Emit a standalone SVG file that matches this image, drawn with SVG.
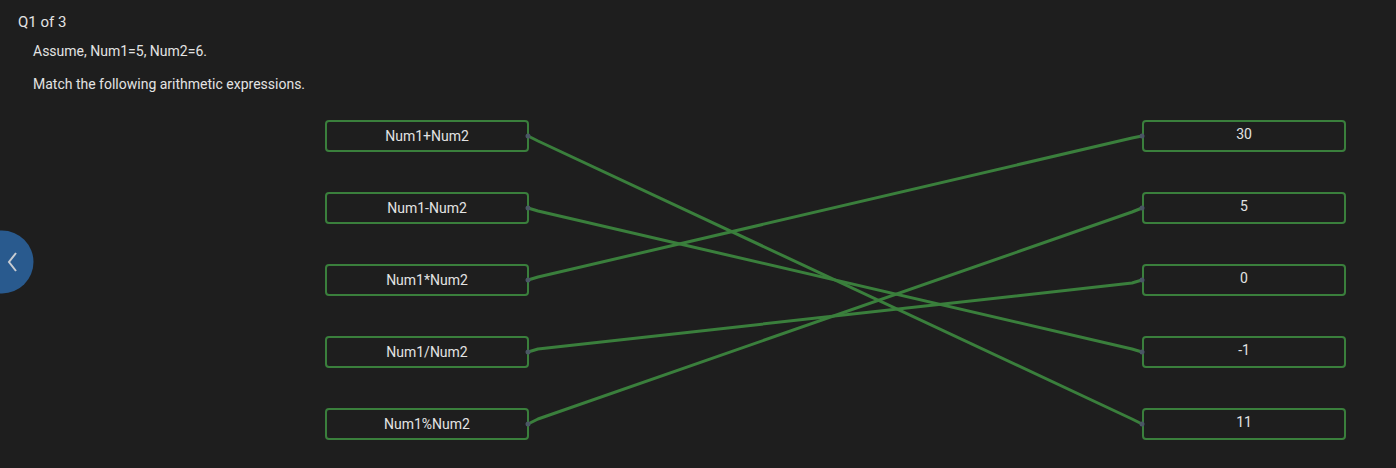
<svg xmlns="http://www.w3.org/2000/svg" width="1396" height="468" viewBox="0 0 1396 468">
<style>
text{font-family:Roboto,"Liberation Sans",sans-serif;fill:#e3e3e3}
.box{fill:#1e1e1e;stroke:#3a7f3c;stroke-width:2}
.lbl{font-size:14px;text-anchor:middle}
.c{fill:none;stroke:#3a7f3c;stroke-width:3;stroke-linejoin:round;stroke-linecap:round}
.dot{fill:#4a5664}
</style>
<rect width="1396" height="468" fill="#1e1e1e"/>
<text x="18" y="27" font-size="15">Q1 of 3</text>
<text x="33" y="56" font-size="14">Assume, Num1=5, Num2=6.</text>
<text x="33" y="89" font-size="14">Match the following arithmetic expressions.</text>
<g id="nav">
<circle cx="2" cy="262" r="31.5" fill="#295a8e"/>
<path d="M16,253 L9,262 L16,271" fill="none" stroke="#c8ccd2" stroke-width="2"/>
</g>
<g id="connectors">
<path class="c" d="M528,136 L538,141 L1132,419 L1142,424"/>
<path class="c" d="M528,208 L538,211 L1132,349 L1142,352"/>
<path class="c" d="M528,280 L538,277 L1132,138 L1142,136"/>
<path class="c" d="M528,352 L538,349 L1132,283 L1142,280"/>
<path class="c" d="M528,424 L538,419 L1132,212 L1142,208"/>
</g>
<g id="L1"><rect class="box" x="326" y="121" width="202" height="30" rx="3"/><text class="lbl" x="427" y="141">Num1+Num2</text><circle class="dot" cx="528" cy="136" r="2.5"/></g>
<g id="L2"><rect class="box" x="326" y="193" width="202" height="30" rx="3"/><text class="lbl" x="427" y="213">Num1-Num2</text><circle class="dot" cx="528" cy="208" r="2.5"/></g>
<g id="L3"><rect class="box" x="326" y="265" width="202" height="30" rx="3"/><text class="lbl" x="427" y="285">Num1*Num2</text><circle class="dot" cx="528" cy="280" r="2.5"/></g>
<g id="L4"><rect class="box" x="326" y="337" width="202" height="30" rx="3"/><text class="lbl" x="427" y="357">Num1/Num2</text><circle class="dot" cx="528" cy="352" r="2.5"/></g>
<g id="L5"><rect class="box" x="326" y="409" width="202" height="30" rx="3"/><text class="lbl" x="427" y="429">Num1%Num2</text><circle class="dot" cx="528" cy="424" r="2.5"/></g>
<g id="R1"><rect class="box" x="1143" y="121" width="202" height="30" rx="3"/><text class="lbl" x="1244" y="139">30</text><circle class="dot" cx="1142" cy="136" r="2.5"/></g>
<g id="R2"><rect class="box" x="1143" y="193" width="202" height="30" rx="3"/><text class="lbl" x="1244" y="211">5</text><circle class="dot" cx="1142" cy="208" r="2.5"/></g>
<g id="R3"><rect class="box" x="1143" y="265" width="202" height="30" rx="3"/><text class="lbl" x="1244" y="283">0</text><circle class="dot" cx="1142" cy="280" r="2.5"/></g>
<g id="R4"><rect class="box" x="1143" y="337" width="202" height="30" rx="3"/><text class="lbl" x="1244" y="355">-1</text><circle class="dot" cx="1142" cy="352" r="2.5"/></g>
<g id="R5"><rect class="box" x="1143" y="409" width="202" height="30" rx="3"/><text class="lbl" x="1244" y="427">11</text><circle class="dot" cx="1142" cy="424" r="2.5"/></g>
</svg>
